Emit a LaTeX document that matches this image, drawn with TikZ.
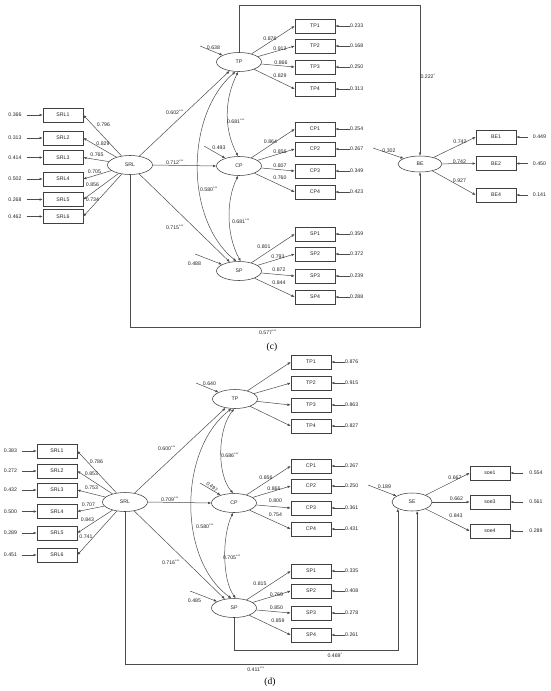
\documentclass[tikz,border=0pt]{standalone}
\usepackage{fontspec}
\setmainfont{Liberation Sans}
\newfontfamily\serifp{Liberation Serif}
\usetikzlibrary{arrows.meta,shapes.geometric}
\begin{document}
\begin{tikzpicture}[x=1pt,y=-1pt,
  every node/.style={font=\fontsize{5.2}{6}\selectfont, text=black!85},
  lat/.style={draw=black!75, line width=0.55pt, ellipse, minimum width=45pt, minimum height=19pt, inner sep=0pt},
  obs/.style={draw=black!75, line width=0.55pt, rectangle, minimum width=40pt, minimum height=14pt, inner sep=0pt},
  lbl/.style={inner sep=0pt},
  arr/.style={draw=black!70, line width=0.5pt, -{Latex[length=3.2pt,width=2.6pt]}},
  dbl/.style={draw=black!70, line width=0.5pt, {Latex[length=3.2pt,width=2.6pt]}-{Latex[length=3.2pt,width=2.6pt]}},
  pan/.style={font=\serifp\fontsize{9.5}{11}\selectfont, text=black, inner sep=0pt}]
\fill[white] (0,0) rectangle (550,691);
\useasboundingbox (0,0) rectangle (550,691);

% ================= panel (c) =================
\node[lat] (cSRL) at (130,165) {SRL};
\node[lat] (cTP) at (239,62) {TP};
\node[lat] (cCP) at (239,166) {CP};
\node[lat] (cSP) at (239,271) {SP};
\node[lat, minimum width=44pt, minimum height=16pt] (cBE) at (420,164) {BE};

\foreach \n/\y/\e in {1/115/0.366, 2/138/0.313, 3/157.5/0.414, 4/179/0.502, 5/199.5/0.268, 6/216.5/0.462} {
  \node[obs] (cSRL\n) at (63,\y) {SRL\n};
  \node[lbl] (ecSRL\n) at (15,\y) {\e};
  \draw[arr, shorten <=5pt] (ecSRL\n) -- (cSRL\n);
  \draw[arr] (cSRL) -- (cSRL\n.east);
}
\foreach \n/\y/\e in {1/26/0.233, 2/46/0.168, 3/67/0.250, 4/89/0.313} {
  \node[obs] (cTP\n) at (315,\y) {TP\n};
  \node[lbl, anchor=west] (ecTP\n) at (350,\y) {\e};
  \draw[arr] (ecTP\n) -- (cTP\n.east);
  \draw[arr] (cTP) -- (cTP\n.west);
}
\foreach \n/\y/\e in {1/129/0.254, 2/149/0.267, 3/171/0.349, 4/192/0.423} {
  \node[obs] (cCP\n) at (315,\y) {CP\n};
  \node[lbl, anchor=west] (ecCP\n) at (350,\y) {\e};
  \draw[arr] (ecCP\n) -- (cCP\n.east);
  \draw[arr] (cCP) -- (cCP\n.west);
}
\foreach \n/\y/\e in {1/234/0.359, 2/254/0.372, 3/276/0.239, 4/297/0.288} {
  \node[obs] (cSP\n) at (315,\y) {SP\n};
  \node[lbl, anchor=west] (ecSP\n) at (350,\y) {\e};
  \draw[arr] (ecSP\n) -- (cSP\n.east);
  \draw[arr] (cSP) -- (cSP\n.west);
}
\foreach \n/\y/\e in {1/137/0.449, 2/163.5/0.450, 4/195/0.141} {
  \node[obs] (cBE\n) at (496,\y) {BE\n};
  \node[lbl] (ecBE\n) at (539.5,\y) {\e};
  \draw[arr, shorten <=5pt] (ecBE\n) -- (cBE\n.east);
  \draw[arr] (cBE) -- (cBE\n.west);
}

% loading labels (c)
\node[lbl] (lc1) at (103.5,125) {0.796};
\node[lbl] (lc2) at (103,144) {0.829};
\node[lbl] (lc3) at (97,155) {0.765};
\node[lbl] (lc4) at (94.5,171.5) {0.705};
\node[lbl] (lc5) at (92.5,185) {0.856};
\node[lbl] (lc6) at (92.5,200) {0.734};
\node[lbl] (lc7) at (270,39) {0.876};
\node[lbl] (lc8) at (280,49) {0.912};
\node[lbl] (lc9) at (281,63) {0.866};
\node[lbl] (lc10) at (280,76) {0.829};
\node[lbl] (lc11) at (270.5,142) {0.864};
\node[lbl] (lc12) at (280,152) {0.856};
\node[lbl] (lc13) at (280,166) {0.807};
\node[lbl] (lc14) at (280,178) {0.760};
\node[lbl] (lc15) at (264,247) {0.801};
\node[lbl] (lc16) at (278,257) {0.793};
\node[lbl] (lc17) at (279,270) {0.872};
\node[lbl] (lc18) at (279,283) {0.844};
\node[lbl] (lc19) at (460,142) {0.742};
\node[lbl] (lc20) at (459.5,162) {0.742};
\node[lbl] (lc21) at (459.5,181) {0.927};

% latent errors (c)
\coordinate (ucTP) at (200,46);
\coordinate (ucCP) at (204,146);
\coordinate (ucSP) at (195,254);
\coordinate (ucBE) at (373,148);
\draw[arr] (ucTP) -- (cTP);
\draw[arr] (ucCP) -- (cCP);
\draw[arr] (ucSP) -- (cSP);
\draw[arr] (ucBE) -- (cBE);
\node[lbl] (vc1) at (213.5,48) {0.638};
\node[lbl] (vc2) at (219,148) {0.493};
\node[lbl] (vc3) at (194.5,264) {0.488};
\node[lbl] (vc4) at (389,151) {0.302};

% structural paths (c)
\draw[arr] (cSRL) -- (cTP);
\draw[arr] (cSRL.east) -- (cCP.west);
\draw[arr] (cSRL) -- (cSP);
\draw[dbl] (cTP.265) .. controls (224,100) and (224,130) .. (cCP.95);
\draw[dbl] (cCP.265) .. controls (226,200) and (226,235) .. (cSP.80);
\draw[dbl] (cTP.250) .. controls (185,115) and (185,220) .. (cSP.105);
\draw[arr] (cTP.north) -- ++(0,-47) -| (cBE.north);
\draw[arr] (cSRL.south) -- ++(0,152) -| (cBE.south);

\node[lbl] (sc1) at (175,112) {0.602\textsuperscript{***}};
\node[lbl] (sc2) at (175,162) {0.712\textsuperscript{***}};
\node[lbl] (sc3) at (175,227) {0.715\textsuperscript{***}};
\node[lbl] (sc4) at (236,121) {0.681\textsuperscript{***}};
\node[lbl] (sc5) at (209,189) {0.580\textsuperscript{***}};
\node[lbl] (sc6) at (241,221) {0.681\textsuperscript{***}};
\node[lbl] (sc7) at (268,332) {0.577\textsuperscript{***}};
\node[lbl] (sc8) at (428,76) {0.222\textsuperscript{*}};

\node[pan] (labc) at (272,347) {(c)};

% ================= panel (d) =================
\node[lat] (dSRL) at (125,502) {SRL};
\node[lat] (dTP) at (235,399) {TP};
\node[lat] (dCP) at (234,503) {CP};
\node[lat] (dSP) at (234,608) {SP};
\node[lat, minimum width=40pt, minimum height=18pt] (dSE) at (412,502) {SE};

\foreach \n/\y/\e in {1/451/0.383, 2/471/0.272, 3/490/0.432, 4/511.5/0.500, 5/533/0.289, 6/555/0.451} {
  \node[obs] (dSRL\n) at (57,\y) {SRL\n};
  \node[lbl] (edSRL\n) at (10.5,\y) {\e};
  \draw[arr, shorten <=5pt] (edSRL\n) -- (dSRL\n);
  \draw[arr] (dSRL) -- (dSRL\n.east);
}
\foreach \n/\y/\e in {1/362/0.876, 2/383/0.915, 3/405/0.863, 4/426/0.827} {
  \node[obs] (dTP\n) at (311,\y) {TP\n};
  \node[lbl, anchor=west] (edTP\n) at (345,\y) {\e};
  \draw[arr] (edTP\n) -- (dTP\n.east);
  \draw[arr] (dTP) -- (dTP\n.west);
}
\foreach \n/\y/\e in {1/466/0.267, 2/486/0.250, 3/508/0.361, 4/529/0.431} {
  \node[obs] (dCP\n) at (311,\y) {CP\n};
  \node[lbl, anchor=west] (edCP\n) at (345,\y) {\e};
  \draw[arr] (edCP\n) -- (dCP\n.east);
  \draw[arr] (dCP) -- (dCP\n.west);
}
\foreach \n/\y/\e in {1/571/0.335, 2/591/0.408, 3/613/0.278, 4/635/0.261} {
  \node[obs] (dSP\n) at (311,\y) {SP\n};
  \node[lbl, anchor=west] (edSP\n) at (345,\y) {\e};
  \draw[arr] (edSP\n) -- (dSP\n.east);
  \draw[arr] (dSP) -- (dSP\n.west);
}
\foreach \n/\y/\e in {1/473/0.554, 3/502/0.561, 4/531/0.289} {
  \node[obs] (dsoe\n) at (490,\y) {soe\n};
  \node[lbl] (edsoe\n) at (536,\y) {\e};
  \draw[arr, shorten <=6pt] (edsoe\n) -- (dsoe\n.east);
  \draw[arr] (dSE) -- (dsoe\n.west);
}

% loading labels (d)
\node[lbl] (ld1) at (96.5,462) {0.786};
\node[lbl] (ld2) at (91.5,474) {0.853};
\node[lbl] (ld3) at (91.5,488) {0.753};
\node[lbl] (ld4) at (88.5,505) {0.707};
\node[lbl] (ld5) at (87.5,520) {0.843};
\node[lbl] (ld6) at (86,537) {0.741};
\node[lbl] (ld7) at (266,478) {0.856};
\node[lbl] (ld8) at (274,489) {0.866};
\node[lbl] (ld9) at (275.5,501) {0.800};
\node[lbl] (ld10) at (275.5,515) {0.754};
\node[lbl] (ld11) at (260,584) {0.815};
\node[lbl] (ld12) at (276.5,595) {0.769};
\node[lbl] (ld13) at (276.5,608) {0.850};
\node[lbl] (ld14) at (278,621) {0.859};
\node[lbl] (ld15) at (455,478) {0.667};
\node[lbl] (ld16) at (456.5,499) {0.662};
\node[lbl] (ld17) at (456,516) {0.843};

% latent errors (d)
\coordinate (udTP) at (196,383);
\coordinate (udCP) at (200,483);
\coordinate (udSP) at (190,591);
\coordinate (udSE) at (368,485);
\draw[arr] (udTP) -- (dTP);
\draw[arr] (udCP) -- (dCP);
\draw[arr] (udSP) -- (dSP);
\draw[arr] (udSE) -- (dSE);
\node[lbl] (vd1) at (209.5,384) {0.640};
\node[lbl, rotate=-40] (vd2) at (212,487) {0.497};
\node[lbl] (vd3) at (194.5,601) {0.485};
\node[lbl] (vd4) at (384.5,487) {0.189};

% structural paths (d)
\draw[arr] (dSRL) -- (dTP);
\draw[arr] (dSRL.east) -- (dCP.west);
\draw[arr] (dSRL) -- (dSP);
\draw[dbl] (dTP.265) .. controls (217,430) and (217,475) .. (dCP.95);
\draw[dbl] (dCP.265) .. controls (222,535) and (222,580) .. (dSP.80);
\draw[dbl] (dTP.250) .. controls (178,450) and (178,560) .. (dSP.105);
\draw[arr] (dSP.south) -- ++(0,32) -| (dSE.205);
\draw[arr] (dSRL.south) -- ++(0,152) -| (dSE.300);

\node[lbl] (sd1) at (167,448) {0.600\textsuperscript{***}};
\node[lbl] (sd2) at (170,499) {0.709\textsuperscript{***}};
\node[lbl] (sd3) at (171,562) {0.716\textsuperscript{***}};
\node[lbl] (sd4) at (230,455) {0.686\textsuperscript{***}};
\node[lbl] (sd5) at (205,526) {0.580\textsuperscript{***}};
\node[lbl] (sd6) at (232,557) {0.705\textsuperscript{***}};
\node[lbl] (sd7) at (256,669) {0.411\textsuperscript{***}};
\node[lbl] (sd8) at (335,655) {0.469\textsuperscript{*}};

\node[pan] (labd) at (270,682) {(d)};
\end{tikzpicture}
\end{document}
